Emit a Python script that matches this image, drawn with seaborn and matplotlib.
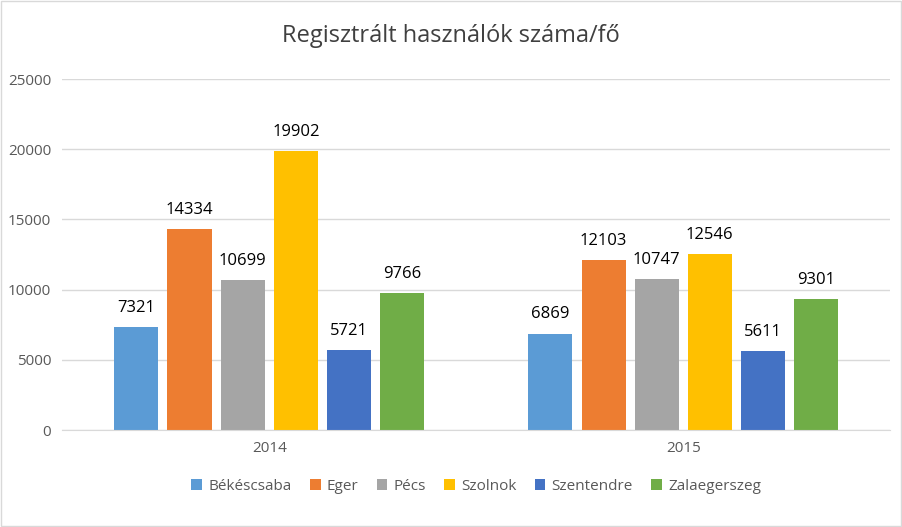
import matplotlib
matplotlib.use("Agg")
import matplotlib.pyplot as plt
import seaborn as sns
import pandas as pd

years = ["2014", "2015"]
cities = ["Békéscsaba", "Eger", "Pécs", "Szolnok", "Szentendre", "Zalaegerszeg"]
values_2014 = [7321, 14334, 10699, 19902, 5721, 9766]
values_2015 = [6869, 12103, 10747, 12546, 5611, 9301]
colors = ["#5B9BD5", "#ED7D31", "#A5A5A5", "#FFC000", "#4472C4", "#70AD47"]

rows = []
for c, a, b in zip(cities, values_2014, values_2015):
    rows.append({"year": "2014", "city": c, "users": a})
    rows.append({"year": "2015", "city": c, "users": b})
data = pd.DataFrame(rows)

plt.rcParams["font.family"] = "Open Sans"
fig = plt.figure(figsize=(9.02, 5.27), dpi=100)
ax = fig.add_axes([0.069, 0.184, 0.918, 0.666])
sns.barplot(data=data, x="year", y="users", hue="city", order=years,
            hue_order=cities, palette=colors, width=0.77, gap=0.17,
            saturation=1, ax=ax)

for cont in ax.containers:
    ax.bar_label(cont, fmt="%d", padding=8, fontsize=12, color="#000000")

ax.set_ylim(0, 25000)
ax.set_yticks(range(0, 25001, 5000))
ax.yaxis.grid(True, color="#D9D9D9", linewidth=1)
ax.set_axisbelow(True)
for s in ["top", "right", "left"]:
    ax.spines[s].set_visible(False)
ax.spines["bottom"].set_color("#D9D9D9")
ax.tick_params(axis="both", length=0, labelsize=11, colors="#595959", pad=8)
ax.set_xlabel("")
ax.set_ylabel("")
fig.suptitle("Regisztrált használók száma/fő", y=0.955, fontsize=17, color="#404040")

ax.legend(loc="upper center", bbox_to_anchor=(0.5, -0.1), ncol=6, frameon=False,
          fontsize=11, handlelength=0.7, handleheight=0.7, columnspacing=1.2,
          handletextpad=0.4, labelcolor="#595959")

fig.patches.append(plt.Rectangle((0.001, 0.001), 0.998, 0.998, transform=fig.transFigure,
                                 fill=False, edgecolor="#D9D9D9", linewidth=1))
fig.savefig("out.png", dpi=100)
